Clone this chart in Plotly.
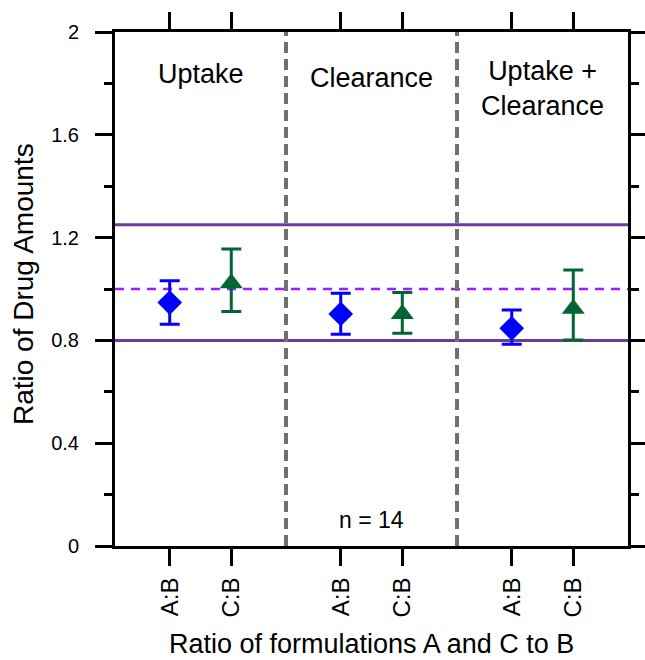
import plotly.graph_objects as go

# ---- data ----
groups = ["Uptake", "Clearance", "Uptake +<br>Clearance"]
tick_labels = ["A:B", "C:B", "A:B", "C:B", "A:B", "C:B"]
x_ab = [0.32, 1.32, 2.32]
x_cb = [0.68, 1.68, 2.68]

ab_mean = [0.947, 0.903, 0.847]
ab_upper = [1.032, 0.983, 0.918]
ab_lower = [0.863, 0.824, 0.785]

cb_mean = [1.022, 0.903, 0.923]
cb_upper = [1.156, 0.986, 1.074]
cb_lower = [0.912, 0.828, 0.802]

limit_lines = [0.8, 1.25]
ref_line = 1.0
dividers = [1, 2]
n_text = "n = 14"
x_title = "Ratio of formulations A and C to B"
y_title = "Ratio of Drug Amounts"

FONT = "Arial, Liberation Sans, Helvetica, sans-serif"

fig = go.Figure()

# reference lines
for yv in limit_lines:
    fig.add_shape(type="line", xref="x", yref="y", x0=0, x1=3, y0=yv, y1=yv,
                  line=dict(color="#6a3d9a", width=3), layer="below")
fig.add_shape(type="line", xref="x", yref="y", x0=0, x1=3, y0=ref_line, y1=ref_line,
              line=dict(color="#9b1fff", width=2.5, dash="9px,7px"), layer="below")
for xv in dividers:
    fig.add_shape(type="line", xref="x", yref="y", x0=xv, x1=xv, y0=0, y1=2,
                  line=dict(color="#707070", width=4, dash="11px,6px"), layer="below")

fig.add_trace(go.Scatter(
    x=x_ab, y=ab_mean, mode="markers",
    marker=dict(symbol="diamond", size=19, color="#0000ff"),
    error_y=dict(type="data", symmetric=False,
                 array=[u - m for u, m in zip(ab_upper, ab_mean)],
                 arrayminus=[m - l for m, l in zip(ab_mean, ab_lower)],
                 color="#0000ff", thickness=3, width=10),
    showlegend=False))

fig.add_trace(go.Scatter(
    x=x_cb, y=cb_mean, mode="markers",
    marker=dict(symbol="triangle-up", size=20, color="#006633"),
    error_y=dict(type="data", symmetric=False,
                 array=[u - m for u, m in zip(cb_upper, cb_mean)],
                 arrayminus=[m - l for m, l in zip(cb_mean, cb_lower)],
                 color="#006633", thickness=3, width=10),
    showlegend=False))

# panel labels
label_y = [1.836, 1.82, 1.78]
for i, g in enumerate(groups):
    fig.add_annotation(x=i + 0.5, y=label_y[i], xref="x", yref="y", text=g,
                       showarrow=False, font=dict(family=FONT, size=27, color="black"))
fig.add_annotation(x=1.5, y=0.1, xref="x", yref="y", text=n_text, showarrow=False,
                   font=dict(family=FONT, size=23, color="black"))

# axis titles
fig.add_annotation(x=0.5, y=-0.2218, xref="paper", yref="paper", text=x_title,
                   showarrow=False, xanchor="center", yanchor="bottom", borderpad=0,
                   font=dict(family=FONT, size=27, color="black"))
fig.add_annotation(x=-0.177, y=0.51, xref="paper", yref="paper", text=y_title,
                   showarrow=False, xanchor="center", yanchor="middle", textangle=-90,
                   font=dict(family=FONT, size=28, color="black"))

tick_vals = [x_ab[0], x_cb[0], x_ab[1], x_cb[1], x_ab[2], x_cb[2]]

fig.update_layout(
    width=645, height=660,
    margin=dict(l=115, r=17, t=32, b=114),
    plot_bgcolor="white", paper_bgcolor="white",
    font=dict(family=FONT, color="black"),
    xaxis=dict(range=[0, 3], tickmode="array", tickvals=tick_vals, ticktext=tick_labels,
               tickangle=-90, ticks="outside", ticklen=17, tickwidth=3, tickcolor="black",
               showline=True, linewidth=3, linecolor="black", mirror="ticks",
               showgrid=False, zeroline=False,
               tickfont=dict(family=FONT, size=24, color="black"),
               ticklabelstandoff=2, automargin=False),
    yaxis=dict(range=[0, 2], tickmode="array", tickvals=[0, 0.4, 0.8, 1.2, 1.6, 2],
               ticktext=["0", "0.4", "0.8", "1.2", "1.6", "2"],
               ticks="outside", ticklen=17, tickwidth=3, tickcolor="black",
               minor=dict(tickvals=[0.2, 0.6, 1.0, 1.4, 1.8], ticks="outside", ticklen=8,
                          tickwidth=3, tickcolor="black"),
               showline=True, linewidth=3, linecolor="black", mirror="ticks",
               showgrid=False, zeroline=False,
               tickfont=dict(family=FONT, size=20, color="black"),
               ticklabelstandoff=12, automargin=False),
)

fig.write_html("out.html", config={"displayModeBar": False},
               post_script="document.body.style.margin='0';document.body.style.overflow='hidden';")
